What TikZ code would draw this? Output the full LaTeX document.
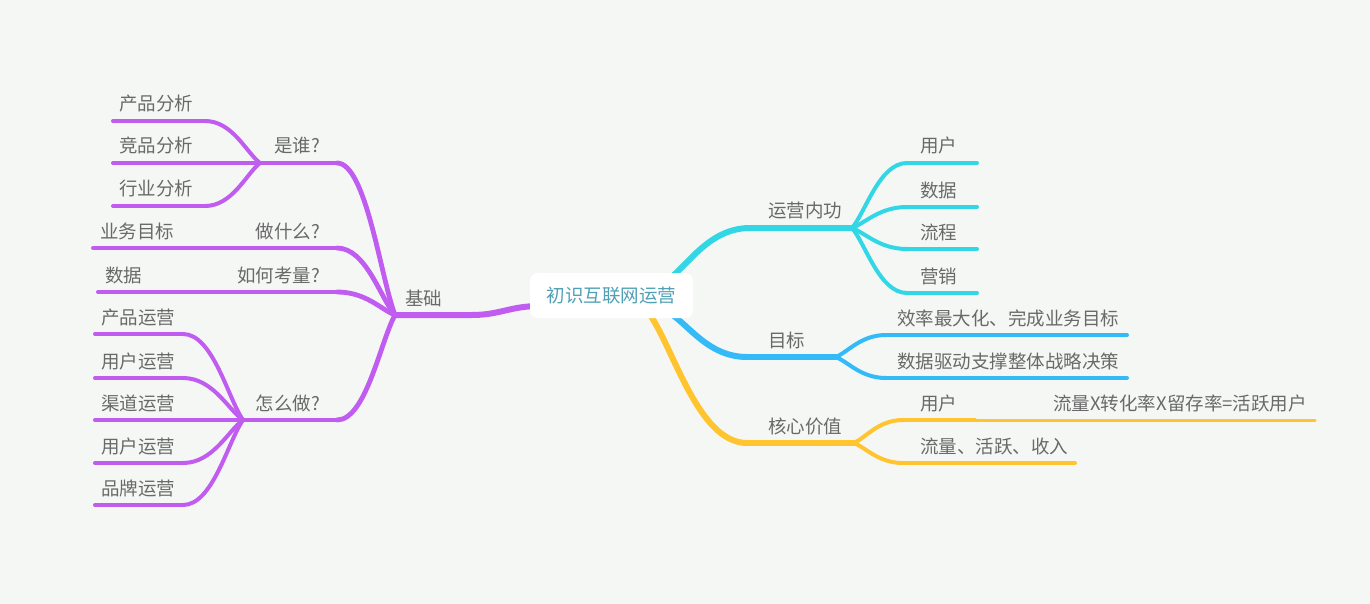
\documentclass[tikz,border=0pt]{standalone}
\usepackage{fontspec}
\setmainfont{Noto Sans CJK SC}
\usetikzlibrary{calc}
\definecolor{bg}{RGB}{245,247,245}
\definecolor{pur}{RGB}{192,92,240}
\definecolor{cya}{RGB}{50,215,230}
\definecolor{blu}{RGB}{52,187,247}
\definecolor{yel}{RGB}{255,196,46}
\definecolor{txt}{RGB}{105,105,105}
\definecolor{ctxt}{RGB}{80,160,181}
\newcommand\bcurve[3]{\draw[#1] (#2) .. controls ($(#2)!0.5!(#2 -| #3)$) and ($(#3)!0.25!(#2)$) .. (#3);}
\tikzset{
  lbl/.style={text=txt, font=\fontsize{18.5}{22}\selectfont, inner sep=0pt, anchor=base west},
  lble/.style={lbl, anchor=base east},
  br/.style={line cap=round, line width=6pt},
  tp/.style={line cap=round, line width=4.8pt},
  lf/.style={line cap=round, line width=4pt},
  gc/.style={line cap=round, line width=3pt},
}
\begin{document}
\begin{tikzpicture}[x=1pt,y=-1pt]
\fill[bg] (0,0) rectangle (1370,604);
\useasboundingbox (0,0) rectangle (1370,604);
% ---------- coordinates ----------
\coordinate (J0) at (395,315); \coordinate (B0) at (472,315); \coordinate (P0) at (540,306);
\coordinate (K1) at (260,163); \coordinate (E1) at (337,163);
\coordinate (K2) at (247,248); \coordinate (E2) at (337,248);
\coordinate (K3) at (228,292); \coordinate (E3) at (337,292);
\coordinate (K4) at (243,420); \coordinate (E4) at (337,420);
\coordinate (a1s) at (113,121); \coordinate (a1e) at (205,121);
\coordinate (a2s) at (113,163);
\coordinate (a3s) at (113,206); \coordinate (a3e) at (205,206);
\coordinate (b1s) at (93,248);
\coordinate (c1s) at (98,292);
\coordinate (d1s) at (95,334); \coordinate (d1e) at (183,334);
\coordinate (d2s) at (95,378); \coordinate (d2e) at (183,378);
\coordinate (d3s) at (95,420);
\coordinate (d4s) at (95,463); \coordinate (d4e) at (183,463);
\coordinate (d5s) at (95,505); \coordinate (d5e) at (183,505);
% right
\coordinate (S1) at (665,282); \coordinate (R1) at (750,228); \coordinate (J1) at (852,228);
\coordinate (u1s) at (907,163); \coordinate (u1e) at (977,163);
\coordinate (u2s) at (907,207); \coordinate (u2e) at (977,207);
\coordinate (u3s) at (907,249); \coordinate (u3e) at (977,249);
\coordinate (u4s) at (907,293); \coordinate (u4e) at (977,293);
\coordinate (S2) at (668,312); \coordinate (R2) at (747,357); \coordinate (J2) at (836,357);
\coordinate (v1s) at (886,335); \coordinate (v1e) at (1127,335);
\coordinate (v2s) at (886,378); \coordinate (v2e) at (1127,378);
\coordinate (S3) at (648,312); \coordinate (R3) at (747,443); \coordinate (J3) at (854,443);
\coordinate (w1s) at (903,420); \coordinate (w1e) at (975,420); \coordinate (w1g) at (1315,420);
\coordinate (w2s) at (903,463); \coordinate (w2e) at (1075,463);
% ---------- purple ----------
\draw[br,pur] (J0) -- (B0) .. controls (500,315) and (510,306) .. (P0);
\draw[tp,pur] (K1) -- (E1); \bcurve{tp,pur}{E1}{J0}
\draw[tp,pur] (K2) -- (E2); \bcurve{tp,pur}{E2}{J0}
\draw[tp,pur] (K3) -- (E3); \bcurve{tp,pur}{E3}{J0}
\draw[tp,pur] (K4) -- (E4); \bcurve{tp,pur}{E4}{J0}
\draw[lf,pur] (a1s) -- (a1e); \bcurve{lf,pur}{a1e}{K1}
\draw[lf,pur] (a2s) -- (K1);
\draw[lf,pur] (a3s) -- (a3e); \bcurve{lf,pur}{a3e}{K1}
\draw[lf,pur] (b1s) -- (K2);
\draw[lf,pur] (c1s) -- (K3);
\draw[lf,pur] (d1s) -- (d1e); \bcurve{lf,pur}{d1e}{K4}
\draw[lf,pur] (d2s) -- (d2e); \bcurve{lf,pur}{d2e}{K4}
\draw[lf,pur] (d3s) -- (K4);
\draw[lf,pur] (d4s) -- (d4e); \bcurve{lf,pur}{d4e}{K4}
\draw[lf,pur] (d5s) -- (d5e); \bcurve{lf,pur}{d5e}{K4}
% ---------- cyan ----------
\bcurve{br,cya}{R1}{S1} \draw[br,cya] (R1) -- (J1);
\bcurve{lf,cya}{u1s}{J1} \draw[lf,cya] (u1s) -- (u1e);
\bcurve{lf,cya}{u2s}{J1} \draw[lf,cya] (u2s) -- (u2e);
\bcurve{lf,cya}{u3s}{J1} \draw[lf,cya] (u3s) -- (u3e);
\bcurve{lf,cya}{u4s}{J1} \draw[lf,cya] (u4s) -- (u4e);
% ---------- blue ----------
\bcurve{br,blu}{R2}{S2} \draw[br,blu] (R2) -- (J2);
\bcurve{lf,blu}{v1s}{J2} \draw[lf,blu] (v1s) -- (v1e);
\bcurve{lf,blu}{v2s}{J2} \draw[lf,blu] (v2s) -- (v2e);
% ---------- yellow ----------
\bcurve{br,yel}{R3}{S3} \draw[br,yel] (R3) -- (J3);
\bcurve{lf,yel}{w1s}{J3} \draw[lf,yel] (w1s) -- (w1e);
\draw[gc,yel] (w1e) -- (w1g);
\bcurve{lf,yel}{w2s}{J3} \draw[lf,yel] (w2s) -- (w2e);
% ---------- center ----------
\node[fill=white, rounded corners=8pt, minimum width=163pt, minimum height=45pt, inner sep=0pt,
  text=ctxt, font=\fontsize{18.5}{22}\selectfont] (ctr) at (611.5,295.5) {初识互联网运营};
% ---------- labels ----------
\node[lbl] (t0) at (405,305) {基础};
\node[lble] (t1) at (320,153) {是谁?};
\node[lble] (t2) at (320,238) {做什么?};
\node[lble] (t3) at (320,282) {如何考量?};
\node[lble] (t4) at (320,410) {怎么做?};
\node[lbl] (l1) at (119,111) {产品分析};
\node[lbl] (l2) at (119,153) {竞品分析};
\node[lbl] (l3) at (119,196) {行业分析};
\node[lbl] (l4) at (100,238) {业务目标};
\node[lbl] (l5) at (105,282) {数据};
\node[lbl] (l6) at (101,324) {产品运营};
\node[lbl] (l7) at (101,368) {用户运营};
\node[lbl] (l8) at (101,410) {渠道运营};
\node[lbl] (l9) at (101,453) {用户运营};
\node[lbl] (l10) at (101,495) {品牌运营};
\node[lbl] (r1) at (768,218) {运营内功};
\node[lbl] (r2) at (768,347) {目标};
\node[lbl] (r3) at (768,433) {核心价值};
\node[lbl] (m1) at (920,153) {用户};
\node[lbl] (m2) at (920,197) {数据};
\node[lbl] (m3) at (920,239) {流程};
\node[lbl] (m4) at (920,283) {营销};
\node[lbl] (m5) at (897,325) {效率最大化、完成业务目标};
\node[lbl] (m6) at (897,368) {数据驱动支撑整体战略决策};
\node[lbl] (m7) at (920,410) {用户};
\node[lble] (m8) at (1307,410) {流量X转化率X留存率=活跃用户};
\node[lbl] (m9) at (920,453) {流量、活跃、收入};
\end{tikzpicture}
\end{document}
